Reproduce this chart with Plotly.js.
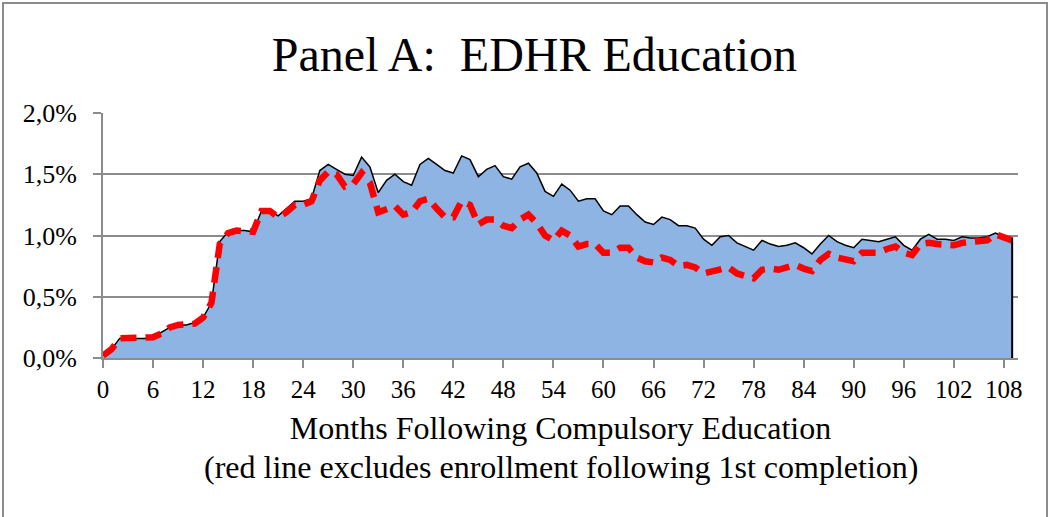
<!DOCTYPE html>
<html>
<head>
<meta charset="utf-8">
<script src="https://cdn.plot.ly/plotly-3.0.1.min.js"></script>
<style>
  html, body { margin: 0; padding: 0; background: #ffffff; }
  #chart { width: 1051px; height: 517px; }
</style>
</head>
<body>
<div id="chart"></div>
<script>
// Months following compulsory education
const months = [];
for (let m = 0; m <= 109; m++) months.push(m);

// Share enrolled in EDHR education (%), all enrollments (blue area)
const totalPct = [
  0.02, 0.07, 0.16, 0.16, 0.16, 0.16, 0.17, 0.21, 0.25, 0.27,
  0.27, 0.29, 0.33, 0.45, 0.95, 1.03, 1.04, 1.04, 1.03, 1.20,
  1.20, 1.16, 1.22, 1.28, 1.28, 1.30, 1.53, 1.58, 1.54, 1.50,
  1.49, 1.64, 1.56, 1.35, 1.45, 1.50, 1.44, 1.41, 1.58, 1.63,
  1.58, 1.53, 1.51, 1.65, 1.62, 1.48, 1.54, 1.57, 1.48, 1.46,
  1.56, 1.59, 1.51, 1.36, 1.32, 1.42, 1.37, 1.28, 1.30, 1.30,
  1.20, 1.17, 1.24, 1.24, 1.17, 1.11, 1.09, 1.15, 1.13, 1.08,
  1.08, 1.06, 0.97, 0.92, 0.99, 1.00, 0.94, 0.91, 0.88, 0.96,
  0.93, 0.91, 0.92, 0.94, 0.90, 0.85, 0.93, 1.00, 0.95, 0.92,
  0.90, 0.97, 0.96, 0.95, 0.97, 0.99, 0.92, 0.88, 0.97, 1.01,
  0.97, 0.97, 0.96, 0.99, 0.98, 0.98, 0.99, 1.02, 0.99, 0.98
];

// Excluding enrollment following 1st completion (red dashed line)
const firstPct = [
  0.02, 0.07, 0.16, 0.16, 0.16, 0.16, 0.17, 0.20, 0.25, 0.27,
  0.27, 0.28, 0.33, 0.45, 0.93, 1.02, 1.04, 1.04, 1.03, 1.20,
  1.20, 1.15, 1.19, 1.25, 1.25, 1.28, 1.45, 1.52, 1.50, 1.40,
  1.42, 1.51, 1.43, 1.19, 1.22, 1.24, 1.17, 1.19, 1.28, 1.30,
  1.22, 1.15, 1.15, 1.28, 1.25, 1.09, 1.13, 1.13, 1.08, 1.06,
  1.13, 1.17, 1.10, 1.00, 0.96, 1.04, 1.00, 0.91, 0.93, 0.93,
  0.86, 0.86, 0.90, 0.90, 0.82, 0.79, 0.78, 0.82, 0.80, 0.75,
  0.76, 0.74, 0.69, 0.71, 0.73, 0.74, 0.69, 0.67, 0.65, 0.72,
  0.73, 0.72, 0.74, 0.76, 0.73, 0.71, 0.80, 0.85, 0.82, 0.81,
  0.79, 0.86, 0.86, 0.86, 0.89, 0.91, 0.86, 0.84, 0.93, 0.94,
  0.93, 0.93, 0.92, 0.94, 0.95, 0.95, 0.96, 1.01, 0.99, 0.96
];

const xTickVals = [0, 6, 12, 18, 24, 30, 36, 42, 48, 54, 60, 66, 72, 78, 84, 90, 96, 102, 108];
const xTickText = ["0", "6", "12", "18", "24", "30", "36", "42", "48", "54", "60", "66", "72", "78", "84", "90", "96", "102", "108"];
const yTickVals = [0, 0.5, 1.0, 1.5, 2.0];
const yTickText = ["0,0%", "0,5%", "1,0%", "1,5%", "2,0%"];

const titleText = "Panel A: \u00a0EDHR Education";
const xTitleLine1 = "Months Following Compulsory Education";
const xTitleLine2 = "(red line excludes enrollment following 1st completion)";

const serif = "Liberation Serif, Times New Roman, serif";
const gridGray = "#8c8c8c";

const lastX = months[months.length - 1];
const lastY = totalPct[totalPct.length - 1];

const traces = [
  {
    x: months, y: totalPct, type: "scatter", mode: "lines",
    fill: "tozeroy", fillcolor: "#8eb4e3",
    line: { color: "#000000", width: 1.5 },
    hoverinfo: "skip", showlegend: false
  },
  {
    x: months, y: firstPct, type: "scatter", mode: "lines",
    line: { color: "#ff0000", width: 6.5, dash: "16px,9px" },
    hoverinfo: "skip", showlegend: false
  }
];

const layout = {
  width: 1051, height: 517,
  margin: { l: 103, r: 33, t: 113, b: 159 },
  paper_bgcolor: "#ffffff", plot_bgcolor: "#ffffff",
  font: { family: serif, color: "#000000" },
  title: {
    text: titleText,
    font: { family: serif, size: 48, color: "#000000" },
    x: 534.5 / 1051, xanchor: "center", xref: "container",
    y: 0.896, yanchor: "middle", yref: "container"
  },
  showlegend: false,
  xaxis: {
    range: [0, 109.7],
    tickmode: "array", tickvals: xTickVals, ticktext: xTickText,
    ticks: "outside", ticklen: 8, tickwidth: 2, tickcolor: gridGray,
    showline: true, linecolor: gridGray, linewidth: 2,
    showgrid: false, zeroline: false,
    tickfont: { family: serif, size: 25, color: "#000000" },
    title: {
      text: xTitleLine1,
      font: { family: serif, size: 32, color: "#000000" },
      standoff: 15
    },
    fixedrange: true
  },
  yaxis: {
    range: [0, 2.0],
    tickmode: "array", tickvals: yTickVals, ticktext: yTickText,
    ticks: "outside", ticklen: 8, tickwidth: 2, tickcolor: gridGray,
    showline: true, linecolor: gridGray, linewidth: 2,
    showgrid: true, gridcolor: gridGray, gridwidth: 2,
    zeroline: false,
    tickfont: { family: serif, size: 26, color: "#000000" },
    ticklabelstandoff: 11,
    fixedrange: true
  },
  annotations: [
    {
      text: xTitleLine2, xref: "paper", yref: "paper",
      x: 0.5, xanchor: "center",
      y: -(467 - 358) / 245, yanchor: "middle",
      showarrow: false,
      font: { family: serif, size: 32, color: "#000000" }
    }
  ],
  shapes: [
    {
      type: "line", xref: "x", yref: "y",
      x0: lastX, x1: lastX, y0: 0, y1: lastY,
      line: { color: "#000000", width: 2 }
    },
    {
      type: "rect", xref: "paper", yref: "paper",
      x0: (3 - 103) / 915, x1: (1047 - 103) / 915,
      y0: (358 - 530) / 245, y1: (358 - 3) / 245,
      line: { color: gridGray, width: 2 },
      fillcolor: "rgba(0,0,0,0)", layer: "below"
    }
  ]
};

Plotly.newPlot("chart", traces, layout, { displayModeBar: false, staticPlot: true });
</script>
</body>
</html>
